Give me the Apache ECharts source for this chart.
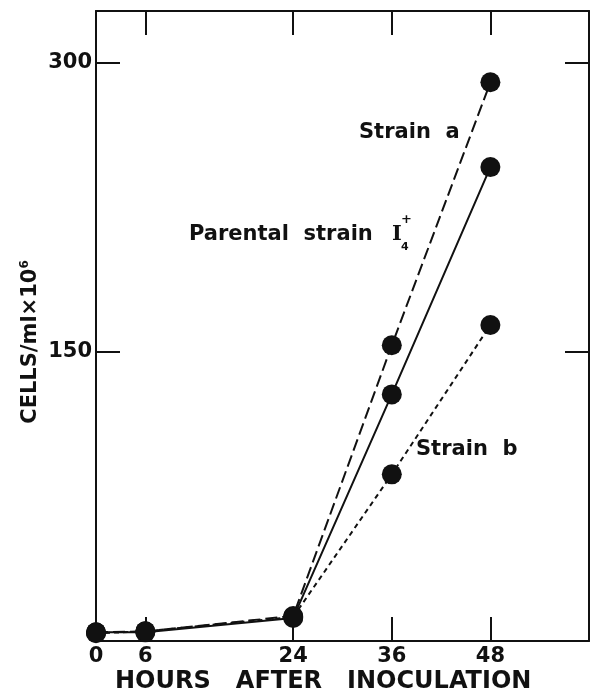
<!DOCTYPE html>
<html>
<head>
<meta charset="utf-8">
<script src="https://cdn.jsdelivr.net/npm/echarts@6/dist/echarts.min.js"></script>
<style>
html,body{margin:0;padding:0;background:#fff;}
#c{width:594px;height:693px;}
</style>
</head>
<body>
<div id="c"></div>
<script>
// Data
var hours = [0, 6, 24, 36, 48];
var strainA = [4.5, 5, 13, 153.5, 290];
var parental = [4.5, 4.5, 12, 128, 246];
var strainB = [4, 5, 12.5, 86.5, 164];
var xTickLabels = [0, 6, 24, 36, 48];
var xTicks = [6, 24, 36, 48];
var yTickLabels = [150, 300];

function pairs(ys){ return hours.map(function(h,i){ return [h, ys[i]]; }); }

var ink = '#111';
var FONT = 'DejaVu Sans';

var chart = echarts.init(document.getElementById('c'), null, {renderer:'canvas'});

function lineSeries(name, ys, type){
  return {
    name: name, type: 'line', data: pairs(ys),
    symbol: 'circle', symbolSize: 20, clip: false,
    lineStyle: {color: ink, width: 2, type: type},
    itemStyle: {color: ink, borderWidth: 0},
    emphasis: {disabled: true}, animation: false
  };
}

var axisLineStyle = {show: true, onZero: false, lineStyle: {color: ink, width: 2}};

var option = {
  animation: false,
  grid: {left: 96, right: 5, top: 11, bottom: 52},
  xAxis: [{
    type: 'value', min: 0, max: 60, position: 'bottom',
    axisLine: axisLineStyle,
    axisTick: {show: true, inside: true, length: 24, customValues: xTicks, lineStyle: {color: ink, width: 2}},
    axisLabel: {show: true, customValues: xTickLabels, margin: 5, color: ink, fontFamily: FONT, fontWeight: 'bold', fontSize: 21},
    splitLine: {show: false}
  },{
    type: 'value', min: 0, max: 60, position: 'top',
    axisLine: axisLineStyle,
    axisTick: {show: true, inside: true, length: 24, customValues: xTicks, lineStyle: {color: ink, width: 2}},
    axisLabel: {show: false},
    splitLine: {show: false}
  }],
  yAxis: [{
    type: 'value', min: 0, max: 327, position: 'left',
    axisLine: axisLineStyle,
    axisTick: {show: true, inside: true, length: 24, customValues: yTickLabels, lineStyle: {color: ink, width: 2}},
    axisLabel: {show: true, customValues: yTickLabels, margin: 4, color: ink, fontFamily: FONT, fontWeight: 'bold', fontSize: 21},
    splitLine: {show: false}
  },{
    type: 'value', min: 0, max: 327, position: 'right',
    axisLine: axisLineStyle,
    axisTick: {show: true, inside: true, length: 24, customValues: yTickLabels, lineStyle: {color: ink, width: 2}},
    axisLabel: {show: false},
    splitLine: {show: false}
  }],
  series: [
    lineSeries('Strain a', strainA, [12, 5]),
    lineSeries('Parental strain', parental, 'solid'),
    lineSeries('Strain b', strainB, [5, 4])
  ],
  graphic: [
    {type: 'text', x: 359, y: 133, style: {text: 'Strain  a', fill: ink, font: 'bold 21px "DejaVu Sans"', verticalAlign: 'middle'}},
    {type: 'text', x: 189, y: 235, style: {text: 'Parental  strain', fill: ink, font: 'bold 21px "DejaVu Sans"', verticalAlign: 'middle'}},
    {type: 'text', x: 392, y: 235, style: {text: 'I', fill: ink, font: 'bold 21px "DejaVu Serif"', verticalAlign: 'middle'}},
    {type: 'text', x: 401, y: 220, style: {text: '+', fill: ink, font: 'bold 13px "DejaVu Sans"', verticalAlign: 'middle'}},
    {type: 'text', x: 401, y: 247, style: {text: '4', fill: ink, font: 'bold 11px "DejaVu Sans"', verticalAlign: 'middle'}},
    {type: 'text', x: 416, y: 450, style: {text: 'Strain  b', fill: ink, font: 'bold 21px "DejaVu Sans"', verticalAlign: 'middle'}},
    {type: 'text', x: 115, y: 682, style: {text: 'HOURS   AFTER   INOCULATION', fill: ink, font: 'bold 24px "DejaVu Sans"', verticalAlign: 'middle'}},
    {type: 'text', x: 30, y: 342, rotation: Math.PI/2,
     style: {text: '{a|CELLS/ml×10}{s|6}', fill: ink, align: 'center', verticalAlign: 'middle',
       rich: {
         a: {fontFamily: FONT, fontWeight: 'bold', fontSize: 21, fill: ink, verticalAlign: 'bottom'},
         s: {fontFamily: FONT, fontWeight: 'bold', fontSize: 12, fill: ink, verticalAlign: 'top', padding: [0,0,10,0]}
       }}}
  ]
};
chart.setOption(option);
</script>
</body>
</html>
